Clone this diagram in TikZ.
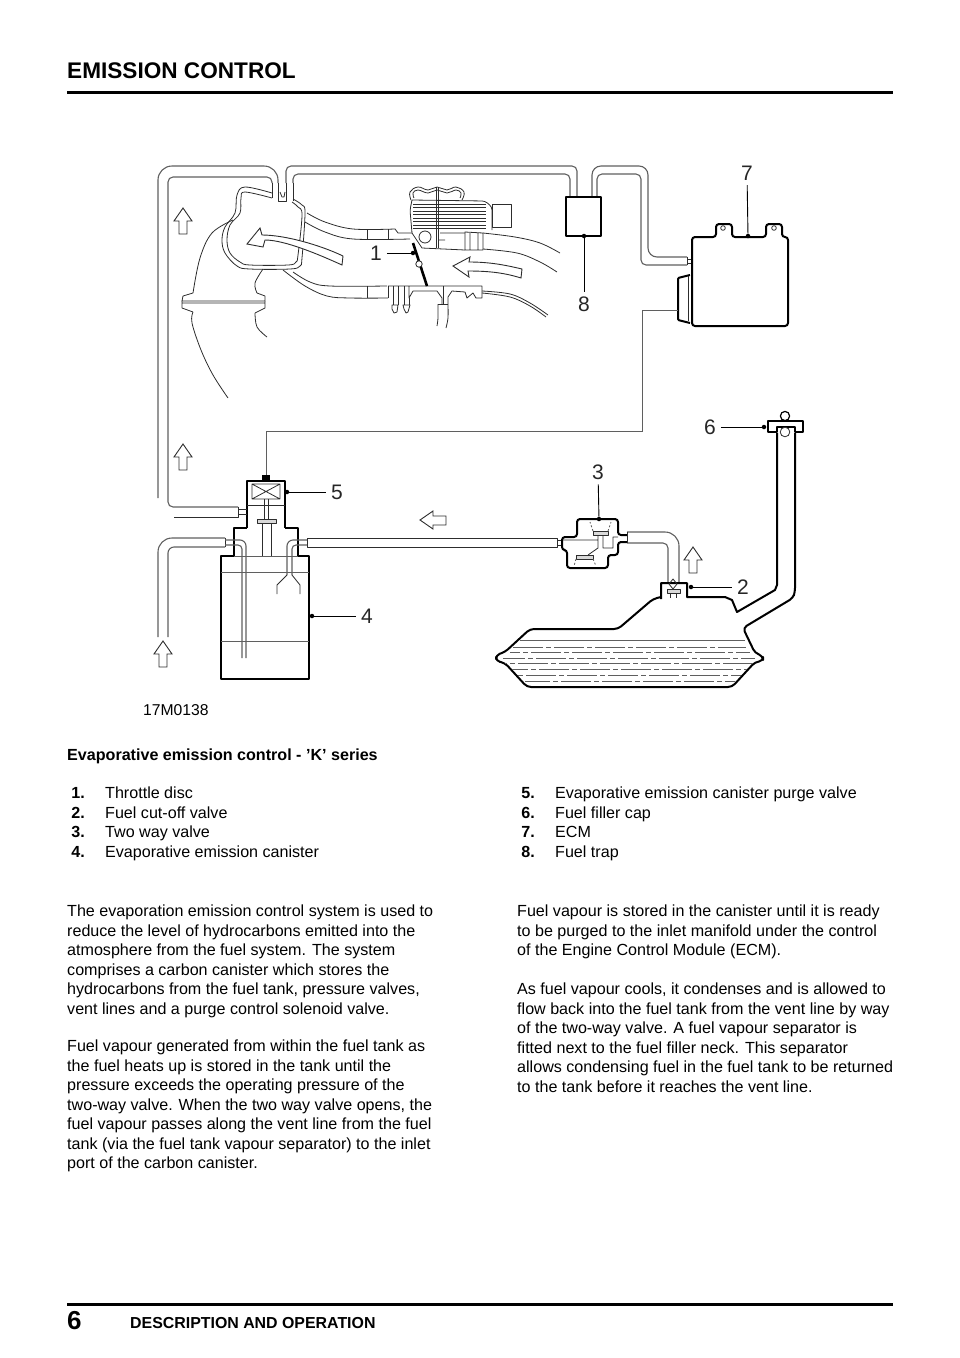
\documentclass[tikz,border=0pt]{standalone}
\usepackage{xcolor}
\usepackage{fontspec}
\setmainfont{Liberation Sans}
\usetikzlibrary{calc,positioning}
\definecolor{lineColor}{RGB}{45, 45, 45}
\definecolor{greyColor}{RGB}{95, 95, 95}
\tikzset{
  thinline/.style={line width=0.8pt, draw=lineColor, line join=round},
  pipeline/.style={line width=1.1pt, draw=greyColor, rounded corners=5pt},
  wideline/.style={line width=1.1pt, draw=greyColor, rounded corners=14pt},
  heavyline/.style={line width=2pt, draw=black, line join=round},
  fluidline/.style={line width=0.8pt, draw=greyColor},
  hollowarrow/.style={line width=0.9pt, draw=lineColor, fill=white, line join=miter},
  partlabel/.style={inner sep=0pt, outer sep=5pt, font=\fontsize{21}{21}\selectfont, text=black!85},
  leader/.style={line width=0.9pt, draw=black},
  leaderdot/.style={circle, fill=black, inner sep=0pt, minimum size=4.5pt},
  bodytext/.style={anchor=north west, inner sep=0pt, align=left, font=\fontsize{16.1}{19.45}\selectfont},
  listnum/.style={anchor=base east, inner sep=0pt, font=\fontsize{16.1}{19}\selectfont\bfseries},
  listtext/.style={anchor=base west, inner sep=0pt, font=\fontsize{16.1}{19}\selectfont}
}
\begin{document}
\begin{tikzpicture}[x=1pt,y=-1pt]
\useasboundingbox (0,0) rectangle (960,1358);
% Page head
\node[anchor=base west, inner sep=0pt, font=\fontsize{22.6}{26}\selectfont\bfseries] (headTitle) at (67,78) {EMISSION CONTROL};
\draw[line width=3pt] (67,92) -- (893,92);

% Vent pipes at the top
\draw[wideline] (158,498) -- (158,166) -- (278,166) -- (278,183);
\draw[pipeline] (272,183) -- (272,177) -- (168,177) -- (168,507) -- (238,507);
\draw[pipeline] (286,183) -- (286,166) -- (577,166) -- (577,197);
\draw[pipeline] (293,183) -- (293,174) -- (570,174) -- (570,197);
\draw[wideline, rounded corners=9pt] (592,197) -- (592,166) -- (648,166) -- (648,257) -- (687,257);
\draw[pipeline] (597,197) -- (597,174) -- (641,174) -- (641,265) -- (687,265);
\draw[thinline] (687,257) -- (687,265) (687,259) -- (692,259) (687,263) -- (692,263);

% Plenum
\draw[thinline] plot[smooth, tension=0.6] coordinates {(272,193) (245,187) (237,195) (235,213) (225,227) (222,240) (225,253) (237,266) (250,269) (290,269) (300,266) (302,258) (305,213) (302,205) (293,199)};
\draw[thinline] plot[smooth, tension=0.6] coordinates {(272,198) (245,192) (241,198) (240,213) (230,225) (227,240) (230,253) (240,262) (250,265) (288,265) (296,262) (298,255) (302,215) (298,207) (292,202)};
\draw[thinline] (272,183) -- (272,198) (278,183) -- (278,201) -- (286,201) -- (286,183) (293,183) -- (293,201);
\draw[thinline] (280,192) -- (282,197) -- (284,197) -- (285,192);

% Intake tract and flange
\draw[thinline] plot[smooth, tension=0.6] coordinates {(307,213) (325,222) (353,229) (395,229)} -- (398,233) -- (412,233);
\draw[thinline] plot[smooth, tension=0.6] coordinates {(305,222) (325,232) (353,239) (410,239)};
\draw[thinline] (367,229) -- (367,239) (388,229) -- (388,239);
\draw[thinline] plot[smooth, tension=0.6] coordinates {(293,272) (310,282) (330,286) (387,286)};
\draw[thinline] plot[smooth, tension=0.6] coordinates {(283,270) (305,286) (327,296) (350,298) (388,298)};
\draw[thinline] (367,286) -- (367,298) (388,286) -- (388,298);
\draw[thinline] plot[smooth, tension=0.6] coordinates {(233,220) (212,233) (200,258) (193,293)} -- (183,296) -- (182,301) -- (265,301) -- (265,296) -- (257,293);
\draw[thinline] plot[smooth, tension=0.6] coordinates {(263,269) (255,283) (257,293)};
\draw[thinline] (182,301) -- (182,308) -- (193,312) (182,303) -- (265,303) (265,301) -- (265,308) -- (255,313);
\draw[thinline] plot[smooth, tension=0.6] coordinates {(193,312) (192,323) (201,350) (213,375) (228,398)};
\draw[thinline] plot[smooth, tension=0.6] coordinates {(255,313) (257,327) (267,337)};

% Flow arrows in the intake
\draw[hollowarrow] (247,244) -- (260,228) -- (262,235) .. controls (285,235) and (320,245) .. (343,256) -- (342,265) .. controls (320,255) and (285,240) .. (265,240) -- (263,247) -- cycle;
\draw[hollowarrow] (453,266) -- (470,257) -- (469,262) .. controls (490,262) and (505,265) .. (522,269) -- (521,278) .. controls (505,273) and (490,271) .. (468,271) -- (469,277) -- cycle;

% Throttle body
\draw[thinline] plot[smooth, tension=0.7] coordinates {(411,200) (410,192) (418,187) (428,190) (437,187) (447,190) (456,187) (464,192) (462,200)};
\draw[thinline] plot[smooth, tension=0.7] coordinates {(414,198) (413,193) (418,190) (428,193) (437,190) (447,193) (456,190) (461,193) (460,198)};
\draw[thinline, rounded corners=3pt] (412,200) -- (485,201) -- (492,207) -- (492,230) (412,200) -- (410,210) -- (412,233);
\foreach \finy in {204,207,211,214,218,221,225,228} {
  \draw[thinline] (413,\finy) -- (486,\finy);
}
\draw[thinline] (492,204) rectangle (511,227);
\draw[thinline] (436,187) -- (436,248) (438,187) -- (438,248);
\draw[thinline] (412,233) -- (422,248) -- (465,250) (440,233) -- (465,233) (445,240) -- (438,240);
\draw[thinline, fill=white] (425,237) circle (6);
\draw[thinline] (465,232) -- (483,233) -- (483,250) -- (465,250) -- cycle (470,233) -- (470,250) (478,233) -- (478,250);
\draw[thinline] plot[smooth, tension=0.6] coordinates {(483,233) (515,237) (540,243) (560,253)};
\draw[thinline] plot[smooth, tension=0.6] coordinates {(483,249) (517,253) (540,262) (557,272)};
\draw[thinline] (388,286) -- (482,286) -- (482,298) -- (476,298) -- (473,293) -- (467,298) -- (465,292) -- (452,291) -- (448,297) -- (448,304) (442,304) -- (442,298) -- (437,291) -- (413,291) -- (409,298) -- (409,286);
\draw[thinline] (393,286) -- (393,305) (398,286) -- (398,305) (404,286) -- (404,305) (409,298) -- (409,305);
\draw[thinline] (392,305) -- (398,305) -- (397,312) -- (394,313) -- (392,309) -- cycle;
\draw[thinline] (403,305) -- (410,305) -- (408,312) -- (406,313) -- (404,309) -- cycle;
\draw[thinline] (443,286) -- (443,304) (438,304) -- (448,304);
\draw[thinline] plot[smooth, tension=0.5] coordinates {(438,304) (438,318) (437,326)};
\draw[thinline] plot[smooth, tension=0.5] coordinates {(448,304) (448,318) (446,328)};
\draw[thinline] plot[smooth, tension=0.6] coordinates {(482,291) (510,294) (530,303) (548,315)};
\draw[thinline] plot[smooth, tension=0.6] coordinates {(482,293) (510,297) (530,306) (546,317)};
% Throttle disc
\draw[line width=2.6pt] (413,243) -- (427,286);
\draw[thinline, fill=white] (419,264) circle (3.2);

% Fuel trap
\draw[heavyline] (566,197) rectangle (601,236);

% ECM
\draw[heavyline, rounded corners=3pt] (716,237) -- (692,237) -- (692,326) -- (788,326) -- (788,237) -- (782,237) -- (782,224) -- (766,224) -- (766,237) -- (732,237) -- (732,224) -- (716,224) -- cycle;
\draw[thinline] (723,228) circle (2.3) (774,228) circle (2.3);
\draw[heavyline, rounded corners=1pt] (690,275) -- (678,278) -- (678,320) -- (690,323);
\draw[thinline] (688,276) -- (688,321);

% Purge signal wire
\draw[line width=1pt, draw=greyColor] (266,476) -- (266,431) -- (642,431) -- (642,310) -- (678,310);

% Purge valve
\draw[heavyline] (247,528) -- (247,481) -- (285,481) -- (285,528);
\fill (262,475) rectangle (270,481);
\draw[thinline] (252,484) rectangle (280,499) (252,484) -- (280,499) (252,499) -- (280,484);
\draw[thinline] (247,505) -- (285,505) (264,499) -- (264,519) (268,499) -- (268,519);
\draw[thinline, fill=white!85!black] (257,519) rectangle (276,523);
\draw[thinline] (262,523) -- (262,556) (271,523) -- (271,556);

% Canister
\draw[heavyline] (247,528) -- (234,528) -- (234,556) -- (221,556) -- (221,679) -- (309,679) -- (309,556) -- (298,556) -- (298,528) -- (285,528);
\draw[fluidline] (234,556) -- (298,556) (221,572) -- (309,572) (221,641) -- (309,641);

% Lower left vapour pipes
\draw[thinline] (174,517) -- (238,517) -- (238,507) (238,509) -- (247,509) (238,514) -- (247,514);
\draw[wideline] (158,637) -- (158,538) -- (225,538);
\draw[pipeline, rounded corners=6pt] (168,637) -- (168,547) -- (225,547);
\draw[thinline] (225,538) -- (225,547);
\draw[pipeline, rounded corners=6pt] (225,540) -- (246,540) -- (246,658);
\draw[pipeline, rounded corners=4pt] (225,545) -- (242,545) -- (242,658);
\draw[thinline] (307,538) -- (557,538) -- (557,547) -- (307,547) -- cycle;
\draw[thinline] (557,540) -- (562,540) (557,545) -- (562,545);
\draw[pipeline, rounded corners=6pt] (307,540) -- (287,540) -- (287,575);
\draw[pipeline, rounded corners=4pt] (307,545) -- (292,545) -- (292,575);
\draw[thinline] (287,575) -- (277,585) -- (277,594) (292,575) -- (300,585) -- (300,594);

% Two way valve
\draw[heavyline, rounded corners=3pt] (627,535) -- (618,535) -- (618,519) -- (577,519) -- (577,537) -- (562,537) -- (562,550) -- (567,550) -- (567,568) -- (608,568) -- (608,555) -- (618,555) -- (618,542) -- (627,542);
\draw[thinline, fill=white!85!black] (593,531) rectangle (608,535) (576,555) rectangle (593,559);
\draw[thinline] (563,540) -- (598,540) (598,535) -- (598,548) -- (588,555) (603,535) -- (603,548) -- (613,548) -- (613,537) -- (618,537);
\draw[fluidline, dashed, dash pattern=on 2pt off 2pt] (593,531) -- (590,522) (608,531) -- (611,522) (576,559) -- (574,566) (593,559) -- (596,566);

% Pipe from cut-off valve to two way valve
\draw[wideline] (627,532) -- (679,532) -- (679,583);
\draw[pipeline] (627,543) -- (668,543) -- (668,583);
\draw[thinline] (627,532) -- (627,543);

% Cut-off valve and tank
\draw[heavyline] (661,599) -- (661,583) -- (687,583) -- (687,597) -- (725,597) -- (732,600) -- (737,612) -- (775,590) -- (777,585) -- (777,433);
\draw[heavyline, rounded corners=4pt] (661,597) -- (653,599) -- (618,629) -- (530,629) -- (505,652) -- (496,655) -- (496,661) -- (505,663) -- (527,687) -- (732,687) -- (755,662) -- (763,661) -- (763,656) -- (755,653) -- (743,628) -- (793,598) -- (795,592) -- (795,433);
\draw[thinline] (673,579) -- (677,584) -- (673,589) -- (669,584) -- cycle;
\draw[thinline, fill=white!85!black] (667,589) rectangle (680,593);
\draw[thinline] (670,593) -- (670,598) (676,593) -- (676,598);

% Fuel in the tank
\draw[fluidline, line width=1pt] (520,640) -- (745,640);
\foreach \fuely/\fuelx/\fuelw/\fuelp in {647/513/233/0, 652/510/240/20, 658/503/252/8, 663/505/248/28, 669/512/235/14, 675/517/224/32, 681/525/210/5} {
  \draw[fluidline, dash pattern=on 30pt off 3pt on 5pt off 3pt, dash phase=\fuelp pt] (\fuelx,\fuely) -- ++(\fuelw,0);
}

% Filler cap
\draw[heavyline] (768,432) -- (768,421) -- (803,421) -- (803,432) -- (795,432) -- (795,427) -- (777,427) -- (777,432) -- cycle;
\draw[heavyline, line width=1.2pt] (785,416) circle (4.6);
\draw[thinline, fill=white] (785,432) circle (4.8);

% Hollow arrows
\foreach \tipx/\tipy in {183/208, 183/444, 163/641, 693/547} {
  \draw[hollowarrow] (\tipx,\tipy) -- ++(9,13) -- ++(-5,0) -- ++(0,13) -- ++(-8,0) -- ++(0,-13) -- ++(-5,0) -- cycle;
}
\draw[hollowarrow] (420,520) -- (433,511) -- (433,516) -- (446,516) -- (446,525) -- (433,525) -- (433,529) -- cycle;

% Part numbers with leaders
\node[partlabel] (lblOne) at (376,253) {1};
\node[leaderdot] (dotOne) at (413,253) {};
\draw[leader] (lblOne) -- (dotOne);
\node[partlabel] (lblTwo) at (743,587) {2};
\node[leaderdot] (dotTwo) at (691,587) {};
\draw[leader] (dotTwo) -- (lblTwo);
\node[partlabel] (lblThree) at (598,472) {3};
\node[leaderdot] (dotThree) at (599,519) {};
\draw[leader] (lblThree) -- (dotThree);
\node[partlabel] (lblFour) at (367,616) {4};
\node[leaderdot] (dotFour) at (312,616) {};
\draw[leader] (dotFour) -- (lblFour);
\node[partlabel] (lblFive) at (337,492) {5};
\node[leaderdot] (dotFive) at (287,492) {};
\draw[leader] (dotFive) -- (lblFive);
\node[partlabel] (lblSix) at (710,427) {6};
\node[leaderdot] (dotSix) at (764,427) {};
\draw[leader] (lblSix) -- (dotSix);
\node[partlabel] (lblSeven) at (747,173) {7};
\node[leaderdot] (dotSeven) at (748,236) {};
\draw[leader] (lblSeven) -- (dotSeven);
\node[partlabel] (lblEight) at (584,304) {8};
\node[leaderdot] (dotEight) at (584,236) {};
\draw[leader] (lblEight) -- (dotEight);

% Figure code
\node[anchor=base west, inner sep=0pt, font=\fontsize{15.7}{16}\selectfont] (figCode) at (143,715) {17M0138};

% Caption
\node[anchor=base west, inner sep=0pt, font=\fontsize{16.1}{19}\selectfont\bfseries] (caption) at (67,760) {Evaporative emission control - ’K’ series};

% Key list
\foreach \keyy/\keyn/\keya/\keyb/\keyt in {
  798/1./85/105/Throttle disc,
  818/2./85/105/Fuel cut-off valve,
  837/3./85/105/Two way valve,
  857/4./85/105/Evaporative emission canister,
  798/5./535/555/Evaporative emission canister purge valve,
  818/6./535/555/Fuel filler cap,
  837/7./535/555/ECM,
  857/8./535/555/Fuel trap} {
  \node[listnum] at (\keya,\keyy) {\keyn};
  \node[listtext] at (\keyb,\keyy) {\keyt};
}

% Body text, left column
\node[bodytext] (bodyLeftA) at (67,905) {The evaporation emission control system is used to\\
reduce the level of hydrocarbons emitted into the\\
atmosphere from the fuel system. The system\\
comprises a carbon canister which stores the\\
hydrocarbons from the fuel tank, pressure valves,\\
vent lines and a purge control solenoid valve.};
\node[bodytext] (bodyLeftB) at (67,1040) {Fuel vapour generated from within the fuel tank as\\
the fuel heats up is stored in the tank until the\\
pressure exceeds the operating pressure of the\\
two-way valve. When the two way valve opens, the\\
fuel vapour passes along the vent line from the fuel\\
tank (via the fuel tank vapour separator) to the inlet\\
port of the carbon canister.};

% Body text, right column
\node[bodytext] (bodyRightA) at (517,905) {Fuel vapour is stored in the canister until it is ready\\
to be purged to the inlet manifold under the control\\
of the Engine Control Module (ECM).};
\node[bodytext] (bodyRightB) at (517,983) {As fuel vapour cools, it condenses and is allowed to\\
flow back into the fuel tank from the vent line by way\\
of the two-way valve. A fuel vapour separator is\\
fitted next to the fuel filler neck. This separator\\
allows condensing fuel in the fuel tank to be returned\\
to the tank before it reaches the vent line.};

% Page foot
\draw[line width=3pt] (67,1304) -- (893,1304);
\node[anchor=base west, inner sep=0pt, font=\fontsize{26}{28}\selectfont\bfseries] (pageNum) at (67,1329) {6};
\node[anchor=base west, inner sep=0pt, font=\fontsize{15.9}{18}\selectfont\bfseries] (footTitle) at (130,1328) {DESCRIPTION AND OPERATION};
\end{tikzpicture}
\end{document}
